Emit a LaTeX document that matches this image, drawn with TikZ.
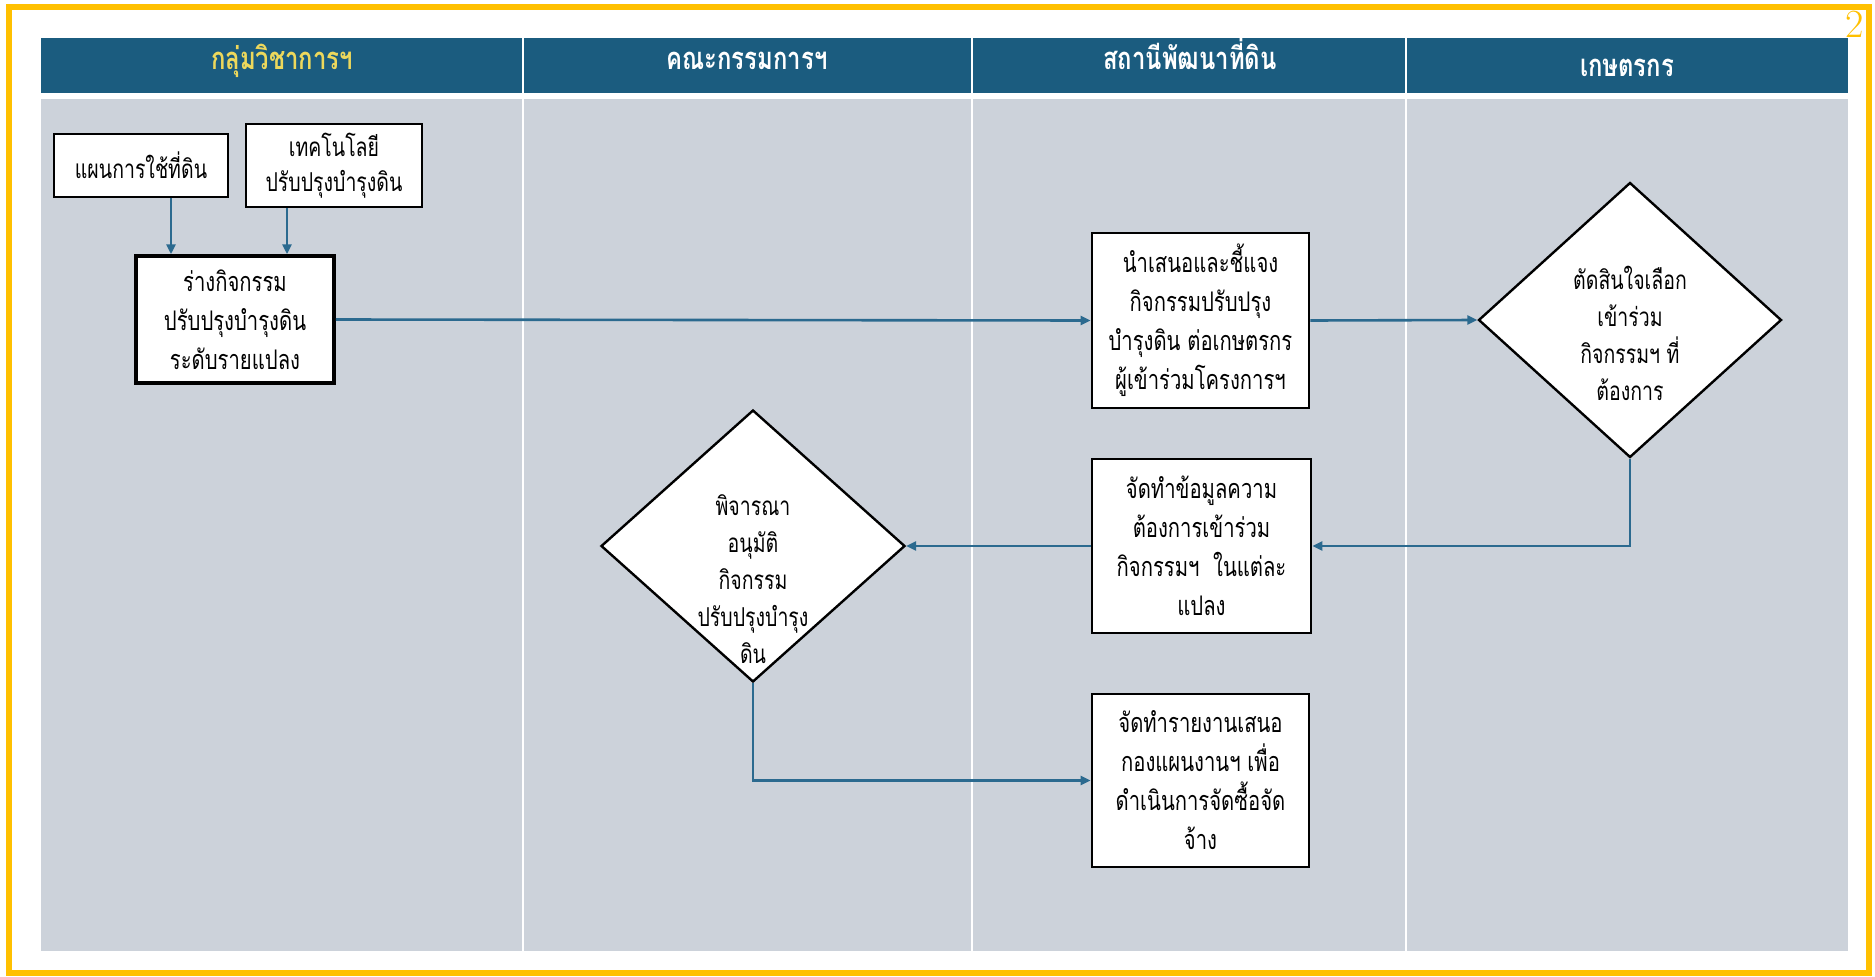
\documentclass[tikz,border=0pt]{standalone}
\usepackage{fontspec}
\newfontfamily\thaifont[Script=Thai,FakeStretch=0.75]{Loma}
\newfontfamily\thaihead[Script=Thai,FakeStretch=0.77]{Loma}
\usetikzlibrary{arrows.meta,shapes.geometric}
\definecolor{hdrblue}{HTML}{1B5C7F}
\definecolor{lanegray}{HTML}{CCD2DA}
\definecolor{flowblue}{HTML}{2B6A8F}
\definecolor{framegold}{HTML}{FFC000}
\definecolor{hdryellow}{HTML}{EDD85C}
\tikzset{
  procbox/.style={draw=black, fill=white, line width=2.8pt, align=center, inner sep=0pt, font=\thaifont\fontsize{27}{39}\selectfont},
  inbox/.style={procbox, line width=1.6pt, font=\thaifont\fontsize{26}{35}\selectfont},
  decide/.style={diamond, draw=black, fill=white, line width=2.4pt, inner sep=0pt},
  dtext/.style={font=\thaifont\fontsize{26}{37}\selectfont, align=center},
  flow/.style={draw=flowblue, line width=2.6pt, -{Triangle[length=10pt,width=9pt]}},
  hdrtext/.style={font=\thaihead\bfseries\fontsize{31}{34}\selectfont, text=white, anchor=base},
  divider/.style={draw=white, line width=1.5pt}
}
\begin{document}
\begin{tikzpicture}[x=1pt,y=-1pt]
\useasboundingbox (0,0) rectangle (1875,977);
\fill[white] (0,0) rectangle (1875,977);
\draw[framegold, line width=6pt] (9,7) rectangle (1869,973);
\node[text=framegold, font=\fontsize{40}{42}\selectfont] (pagenum) at (1855,24) {2};
% lanes
\fill[hdrblue] (41,38) rectangle (1848,93);
\fill[lanegray] (41,99) rectangle (1848,951);
\foreach \xx in {523,972,1406} {\draw[divider] (\xx,38) -- (\xx,951);}
\node[hdrtext, text=hdryellow] (h1) at (282,69) {กลุ่มวิชาการฯ};
\node[hdrtext] (h2) at (747,69) {คณะกรรมการฯ};
\node[hdrtext] (h3) at (1190,69) {สถานีพัฒนาที่ดิน};
\node[hdrtext] (h4) at (1627,76) {เกษตรกร};
% nodes
\node[inbox, minimum width=174pt, minimum height=63pt] (n1) at (141,165.5) {แผนการใช้ที่ดิน};
\node[inbox, minimum width=176pt, minimum height=83pt] (n2) at (334,165.5) {เทคโนโลยี\\ปรับปรุงบำรุงดิน};
\node[procbox, line width=3.5pt, minimum width=198pt, minimum height=127pt] (n3) at (235,319.5) {ร่างกิจกรรม\\ปรับปรุงบำรุงดิน\\ระดับรายแปลง};
\node[procbox, minimum width=217pt, minimum height=175pt] (n4) at (1200.5,320.5) {นำเสนอและชี้แจง\\กิจกรรมปรับปรุง\\บำรุงดิน ต่อเกษตรกร\\ผู้เข้าร่วมโครงการฯ};
\node[decide, minimum width=303pt, minimum height=275pt,
  label={[dtext, yshift=-13pt]center:{ตัดสินใจเลือก\\เข้าร่วม\\กิจกรรมฯ ที่\\ต้องการ}}] (n5) at (1630,320) {};
\node[procbox, minimum width=219pt, minimum height=174pt] (n6) at (1201.5,546) {จัดทำข้อมูลความ\\ต้องการเข้าร่วม\\กิจกรรมฯ \ ในแต่ละ\\แปลง};
\node[decide, minimum width=304pt, minimum height=272pt,
  label={[dtext, yshift=-33pt]center:{พิจารณา\\อนุมัติ\\กิจกรรม\\ปรับปรุงบำรุง\\ดิน}}] (n7) at (753,546) {};
\node[procbox, minimum width=217pt, minimum height=173pt] (n8) at (1200.5,780.5) {จัดทำรายงานเสนอ\\กองแผนงานฯ เพื่อ\\ดำเนินการจัดซื้อจัด\\จ้าง};
% connectors
\draw[flow] ([xshift=30pt]n1.south) -- ([xshift=30pt]n1.south |- n3.north);
\draw[flow] ([xshift=-47pt]n2.south) -- ([xshift=-47pt]n2.south |- n3.north);
\draw[flow] (n3.east) -- (n4.west);
\draw[flow] (n4.east) -- (n5.west);
\draw[flow] (n5.south) -- (n5.south |- n6.east) -- (n6.east);
\draw[flow] (n6.west) -- (n7.east);
\draw[flow] (n7.south) -- (n7.south |- n8.west) -- (n8.west);
\end{tikzpicture}
\end{document}
